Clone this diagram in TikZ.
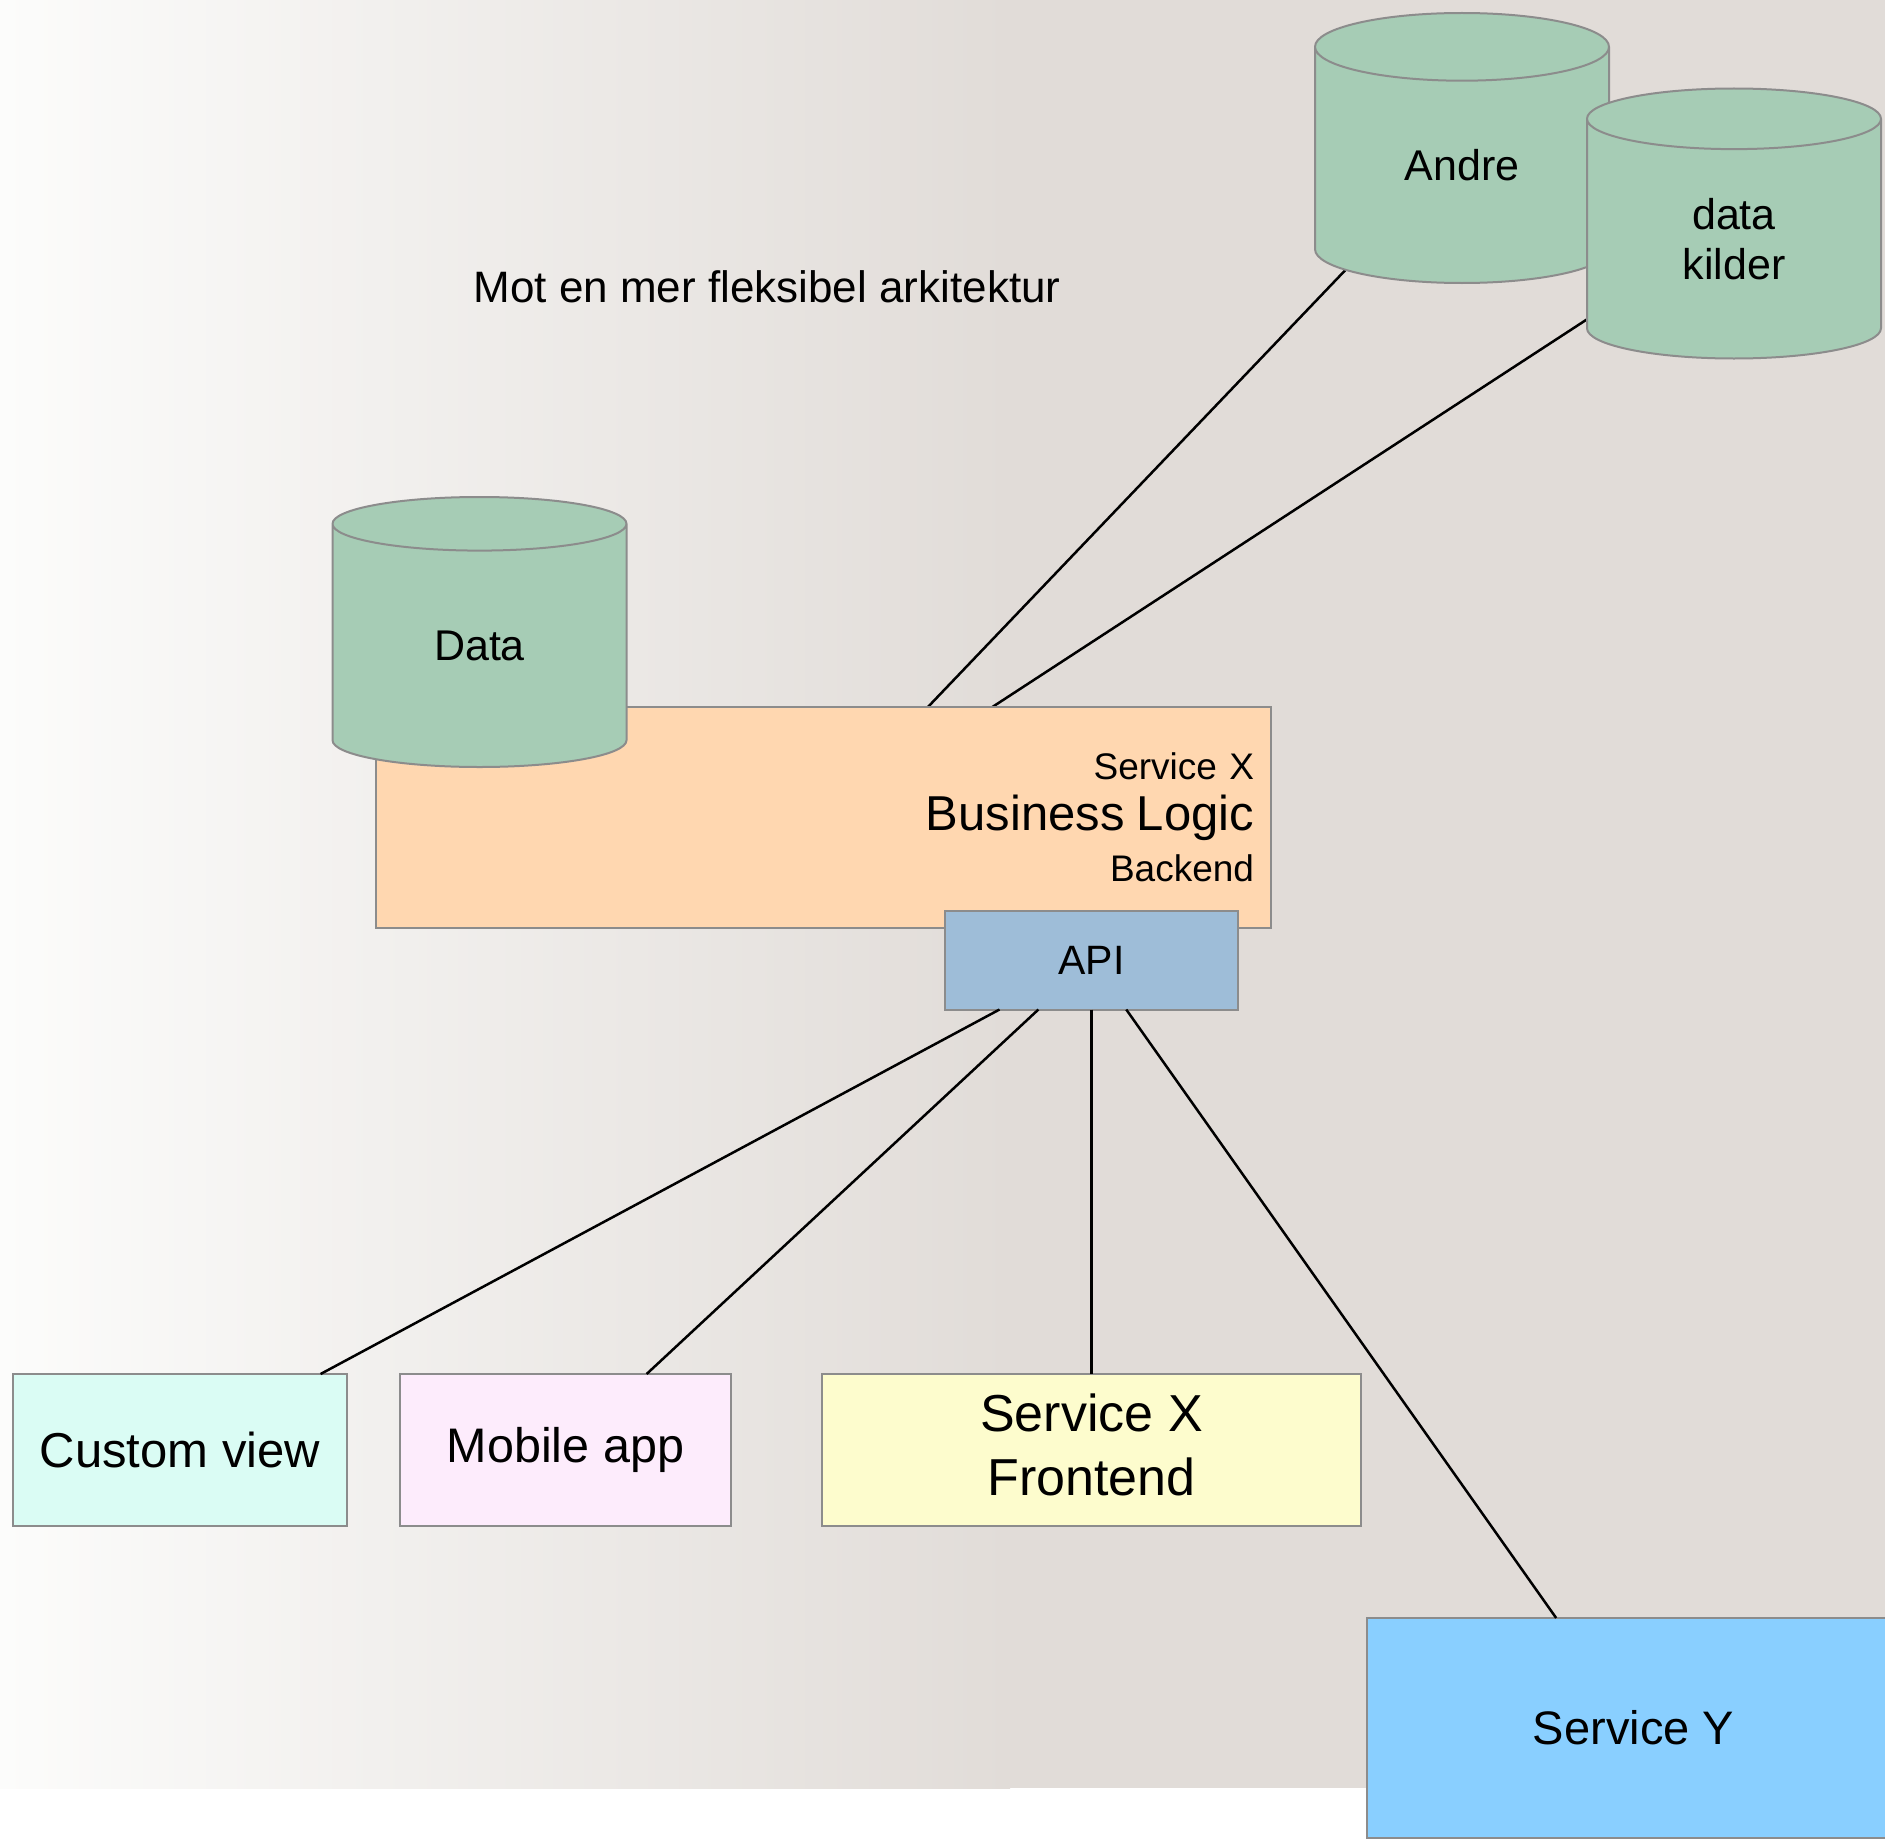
\documentclass[tikz,border=0pt]{standalone}
\usepackage{fontspec}
\setmainfont{Liberation Sans}
\usetikzlibrary{shapes.geometric}
\pgfdeclarelayer{background}
\pgfsetlayers{background,main}
\begin{document}
\begin{tikzpicture}[x=1pt,y=-1pt,
  box/.style={draw=boxline, line width=2pt, inner sep=0pt, outer sep=0pt, text=black},
  db/.style={box, cylinder, shape border rotate=90, aspect=0.59, anchor=shape center, fill=dbgreen, minimum width=294pt, minimum height=270pt, align=center, font=\fontsize{43}{50}\selectfont},
  link/.style={line width=2.5pt, black}]
\definecolor{bgleft}{RGB}{252,252,251}
\definecolor{bgright}{RGB}{225,220,216}
\definecolor{boxline}{RGB}{140,140,140}
\definecolor{dbgreen}{RGB}{166,204,181}
\definecolor{peach}{RGB}{255,215,176}
\definecolor{apiblue}{RGB}{158,189,216}
\definecolor{mint}{RGB}{218,252,244}
\definecolor{pink}{RGB}{253,236,252}
\definecolor{lemon}{RGB}{253,252,205}
\definecolor{sky}{RGB}{137,207,255}
\useasboundingbox (0,0) rectangle (1885,1841);
\clip (0,0) rectangle (1885,1841);
\begin{pgfonlayer}{background}
\fill[white] (0,0) rectangle (1885,1841);
\fill[bgright] (1000,0) rectangle (1885,1788);
\shade[left color=bgleft, right color=bgright] (0,0) rectangle (1010,1788);
\end{pgfonlayer}
\node (title) at (767,287) {\fontsize{44}{52}\selectfont Mot en mer fleksibel arkitektur};
\node[box, fill=peach, minimum width=895pt, minimum height=221pt, text width=861pt, align=right, font=\fontsize{37}{51}\selectfont] (backend) at (823.5,817.5) {Service X\\{\fontsize{49}{51}\selectfont Business Logic}\\Backend};
\node[box, fill=apiblue, minimum width=293pt, minimum height=99pt, font=\fontsize{41}{48}\selectfont] (api) at (1091.5,960) {API};
\node[db] (data) at (479.5,632) {Data};
\node[db] (andre) at (1462,148) {Andre};
\node[db] (kilder) at (1734,223.5) {data\\kilder};
\node[box, fill=mint, minimum width=334pt, minimum height=152pt, font=\fontsize{49}{56}\selectfont] (custom) at (180,1450) {Custom view};
\node[box, fill=pink, minimum width=331pt, minimum height=152pt, font=\fontsize{48.5}{56}\selectfont] (mobile) at (565.5,1450) {Mobile app};
\node[box, fill=lemon, minimum width=539pt, minimum height=152pt, align=center, font=\fontsize{52}{64}\selectfont] (front) at (1091.5,1450) {Service X\\Frontend\vphantom{g}};
\node[box, fill=sky, minimum width=533pt, minimum height=220pt, font=\fontsize{47}{56}\selectfont] (servy) at (1633.5,1728) {Service Y};
\begin{pgfonlayer}{background}
\draw[link] (andre.shape center) -- (backend);
\draw[link] (kilder.shape center) -- (backend);
\end{pgfonlayer}
\foreach \t in {custom,mobile,front,servy} \draw[link] (api) -- (\t);
\end{tikzpicture}
\end{document}
